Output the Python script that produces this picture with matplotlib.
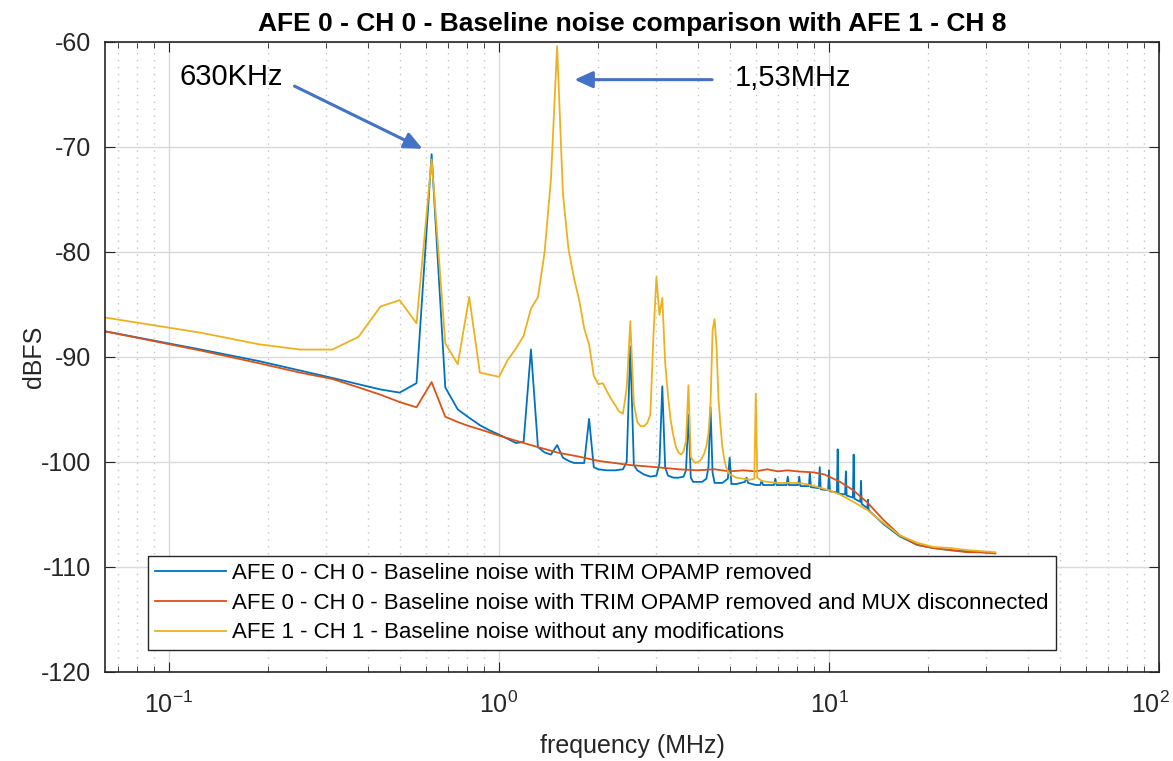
import numpy as np
import matplotlib
matplotlib.use("Agg")
import matplotlib.pyplot as plt
from matplotlib.ticker import LogLocator, NullFormatter, FixedLocator, FixedFormatter

plt.rcParams['font.family'] = ['Liberation Sans', 'DejaVu Sans']
plt.rcParams['mathtext.default'] = 'regular'
plt.rcParams['axes.unicode_minus'] = False

# --- data (frequency in MHz, level in dBFS) ---
f_blue = [0.0625, 0.125, 0.1875, 0.25, 0.3125, 0.375, 0.4375, 0.5, 0.5625, 0.625,
          0.6875, 0.75, 0.8125, 0.875, 0.9375, 1.0, 1.0625, 1.125, 1.1875, 1.25,
          1.3125, 1.375, 1.4375, 1.5, 1.5625, 1.625, 1.6875, 1.75, 1.8125, 1.875,
          1.9375, 2.0, 2.125, 2.25, 2.375, 2.4375, 2.5, 2.5625, 2.625, 2.75,
          2.875, 3.0, 3.0625, 3.125, 3.1875, 3.25, 3.375, 3.5, 3.625, 3.6875,
          3.75, 3.8125, 3.875, 4.0, 4.125, 4.25, 4.3125, 4.375, 4.4375, 4.5,
          4.75, 4.9375, 5.0, 5.0625, 5.25, 5.5625, 5.625, 5.6875, 6.0, 6.1875,
          6.25, 6.3125, 6.8125, 6.875, 6.9375, 7.4375, 7.5, 7.5625, 8.0625, 8.125,
          8.1875, 8.6875, 8.75, 8.8125, 9.3125, 9.375, 9.4375, 9.9375, 10.0, 10.0625,
          10.5625, 10.625, 10.6875, 11.1875, 11.25, 11.3125, 11.8125, 11.875, 11.9375, 12.4375,
          12.5, 12.5625, 13.0625, 13.125, 13.1875, 14.6, 16.4, 18.5, 20.7, 23.3,
          26.2, 29.0, 31.9]
db_blue = [-87.5, -89.3, -90.4, -91.3, -92.0, -92.6, -93.1, -93.4, -92.5, -70.7,
           -92.9, -95.0, -95.8, -96.5, -97.0, -97.4, -97.8, -98.2, -98.1, -89.3,
           -98.6, -99.1, -99.3, -98.4, -99.6, -99.9, -100.1, -100.1, -100.1, -95.9,
           -100.5, -100.7, -100.8, -100.8, -100.7, -100.0, -89.0, -100.3, -100.8, -101.2,
           -101.4, -101.3, -100.2, -92.8, -100.5, -101.3, -101.5, -101.5, -101.4, -100.8,
           -95.5, -101.5, -101.9, -101.9, -101.9, -101.6, -100.5, -94.8, -101.0, -102.0,
           -102.0, -101.6, -99.6, -102.1, -102.1, -101.9, -101.5, -102.0, -102.2, -102.2,
           -101.8, -102.2, -102.2, -101.6, -102.2, -102.2, -101.4, -102.2, -102.2, -101.4,
           -102.3, -102.3, -101.0, -102.4, -102.5, -100.5, -102.6, -102.7, -100.8, -102.8,
           -102.9, -98.8, -103.0, -103.1, -100.9, -103.2, -103.4, -99.3, -103.5, -103.8,
           -101.8, -104.0, -104.4, -103.6, -104.6, -105.9, -107.1, -107.9, -108.2, -108.4,
           -108.5, -108.6, -108.7]

f_red = [0.0625, 0.125, 0.1875, 0.25, 0.3125, 0.375, 0.4375, 0.5, 0.5625, 0.625,
         0.6875, 0.75, 0.8125, 0.875, 0.9375, 1.0, 1.25, 1.5, 1.75, 2.0,
         2.5, 3.0, 3.5, 4.0, 4.5, 5.0, 5.5, 6.0, 6.5, 7.0,
         7.5, 8.0, 9.0, 9.7, 10.8, 11.85, 13.1, 14.6, 16.4, 18.5,
         20.7, 23.3, 26.2, 29.0, 31.9]
db_red = [-87.5, -89.4, -90.6, -91.5, -92.1, -92.9, -93.6, -94.3, -94.8, -92.4,
          -95.7, -96.2, -96.6, -96.9, -97.2, -97.5, -98.4, -99.1, -99.5, -99.9,
          -100.3, -100.5, -100.7, -100.8, -100.7, -100.9, -100.8, -100.9, -100.7, -100.9,
          -100.8, -100.9, -101.0, -101.2, -101.9, -102.7, -103.9, -105.5, -107.0, -107.9,
          -108.2, -108.4, -108.6, -108.6, -108.7]

f_yel = [0.0625, 0.125, 0.1875, 0.25, 0.3125, 0.375, 0.4375, 0.5, 0.5625, 0.625,
         0.6875, 0.75, 0.8125, 0.875, 0.9375, 1.0, 1.0625, 1.125, 1.1875, 1.25,
         1.3125, 1.375, 1.4375, 1.5, 1.5625, 1.625, 1.6875, 1.75, 1.8125, 1.875,
         1.9375, 2.0, 2.0625, 2.125, 2.1875, 2.25, 2.3125, 2.375, 2.4375, 2.5,
         2.5625, 2.625, 2.6875, 2.75, 2.8125, 2.875, 2.9375, 3.0, 3.0625, 3.125,
         3.1875, 3.25, 3.3125, 3.375, 3.4375, 3.5, 3.5625, 3.625, 3.6875, 3.75,
         3.8125, 3.875, 3.9375, 4.0, 4.0625, 4.125, 4.1875, 4.25, 4.3125, 4.375,
         4.4375, 4.5, 4.5625, 4.625, 4.6875, 4.75, 4.8125, 4.875, 5.0, 5.25,
         5.5, 5.75, 5.9375, 6.0, 6.0625, 6.25, 6.5, 7.0, 7.5, 8.0,
         8.5, 9.0, 9.5, 10.0, 10.8, 11.85, 13.1, 14.6, 16.4, 18.5,
         20.7, 23.3, 26.2, 29.0, 31.9]
db_yel = [-86.2, -87.7, -88.8, -89.3, -89.3, -88.1, -85.2, -84.6, -86.8, -71.2,
          -88.7, -90.7, -84.3, -91.5, -91.7, -91.9, -90.3, -89.2, -88.0, -85.4,
          -84.3, -80.0, -73.0, -60.4, -74.5, -79.8, -82.5, -84.6, -87.3, -88.8,
          -91.8, -92.6, -92.5, -93.3, -94.0, -94.6, -95.2, -95.4, -93.0, -86.6,
          -94.5, -96.2, -96.6, -96.6, -96.3, -95.5, -88.0, -82.4, -86.0, -84.4,
          -90.5, -93.6, -96.0, -97.5, -98.6, -99.1, -99.3, -99.0, -98.0, -92.7,
          -99.5, -99.9, -100.1, -100.0, -99.9, -99.6, -99.2, -98.5, -97.3, -94.5,
          -87.5, -86.4, -89.0, -94.0, -96.5, -98.5, -99.7, -100.5, -101.2, -101.5,
          -101.6, -101.7, -101.6, -93.5, -101.5, -101.8, -101.9, -102.0, -102.0, -102.0,
          -102.1, -102.3, -102.5, -102.7, -103.1, -103.8, -104.6, -105.8, -107.0, -107.7,
          -108.1, -108.2, -108.4, -108.5, -108.6]

labels = ['AFE 0 - CH 0 - Baseline noise with TRIM OPAMP removed',
          'AFE 0 - CH 0 - Baseline noise with TRIM OPAMP removed and MUX disconnected',
          'AFE 1 - CH 1 - Baseline noise without any modifications']

x_ticks = [0.1, 1, 10, 100]
x_ticklabels = ['$10^{-1}$', '$10^{0}$', '$10^{1}$', '']  # last one drawn by hand

c_blue = '#0072BD'
c_red = '#D95319'
c_yel = '#EDB120'
c_ann = '#4472C4'

fig = plt.figure(figsize=(11.73, 7.61), dpi=100)
ax = fig.add_axes([0.0895, 0.117, 0.8986, 0.828])

ax.semilogx(f_blue, db_blue, color=c_blue, lw=1.3, label=labels[0])
ax.semilogx(f_red, db_red, color=c_red, lw=1.3, label=labels[1])
ax.semilogx(f_yel, db_yel, color=c_yel, lw=1.3, label=labels[2])

ax.set_xlim(0.064, 100)
ax.set_ylim(-120, -60)
ax.set_yticks(np.arange(-120, -59, 10))

ax.xaxis.set_major_locator(FixedLocator(x_ticks))
ax.xaxis.set_major_formatter(FixedFormatter(x_ticklabels))
ax.xaxis.set_minor_locator(LogLocator(base=10, subs=np.arange(2, 10), numticks=20))
ax.xaxis.set_minor_formatter(NullFormatter())

# matlab like grid
ax.grid(True, which='major', color='#dadada', lw=1.0, ls='-')
ax.grid(True, which='minor', axis='x', color='#c4c4c4', lw=1.0, ls=(0, (1, 4)))
ax.set_axisbelow(True)

ax.tick_params(which='both', direction='in', top=True, right=True, colors='#262626')
ax.tick_params(axis='y', labelsize=18, pad=10)
ax.tick_params(axis='x', labelsize=18, pad=14)
ax.tick_params(which='major', length=7)
ax.tick_params(which='minor', length=4)
for s in ax.spines.values():
    s.set_color('#262626')
    s.set_linewidth(1.2)

# 10^2 label, nudged left so it stays inside the figure like in the original
ax.annotate('$10^{2}$', xy=(1, 0), xycoords='axes fraction', xytext=(-9, -20),
            textcoords='offset pixels', ha='center', va='top', fontsize=18,
            color='#262626')

ax.set_xlabel('frequency (MHz)', fontsize=18, color='#262626', labelpad=12)
ax.set_ylabel('dBFS', fontsize=18, color='#262626', labelpad=-4)
ax.set_title('AFE 0 - CH 0 - Baseline noise comparison with AFE 1 - CH 8',
             fontsize=19, fontweight='bold', color='black', pad=8)

leg = ax.legend(loc='upper left', bbox_to_anchor=(0.0408, 0.184), fontsize=16,
                frameon=True, fancybox=False, edgecolor='#262626', framealpha=1,
                handlelength=3.2, handletextpad=0.3, borderpad=0.3, labelspacing=0.4,
                borderaxespad=0)
leg.get_frame().set_linewidth(1.0)

# annotations
ax.annotate('', xy=(0.597, -70.3), xytext=(0.236, -64.1),
            arrowprops=dict(arrowstyle='-|>,head_length=1.1,head_width=0.5',
                            color=c_ann, lw=2.2))
ax.text(0.2215, -63.3, '630KHz', fontsize=21, ha='right', va='center')
ax.annotate('', xy=(1.66, -63.6), xytext=(4.51, -63.6),
            arrowprops=dict(arrowstyle='-|>,head_length=1.1,head_width=0.5',
                            color=c_ann, lw=2.2))
ax.text(5.19, -63.4, '1,53MHz', fontsize=21, ha='left', va='center')

fig.savefig('out.png', dpi=100)
